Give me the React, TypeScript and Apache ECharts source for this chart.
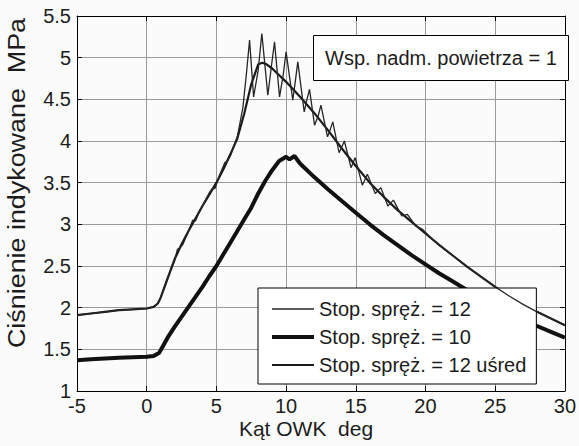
import React, { useEffect, useRef } from "react";
import * as echarts from "echarts";

const xMin = -5;
const xMax = 30;
const yMin = 1;
const yMax = 5.5;

const seriesNames = ["Stop. spręż. = 12", "Stop. spręż. = 10", "Stop. spręż. = 12 uśred"];

// Stop. spręż. = 12 (raw, oscillating)
const rawX = [-5, -4, -3, -2, -1, 0, 0.5, 0.8, 1.0, 1.5, 2.0, 2.2, 2.4, 2.6, 3.0, 3.3, 3.5, 3.7, 4.0, 4.5, 4.7, 4.9, 5.2, 5.6, 5.8, 6.0, 6.5, 6.9, 7.15, 7.38, 7.67, 8.0, 8.26, 8.69, 8.95, 9.17, 9.53, 9.8, 10.0, 10.48, 10.65, 10.84, 11.3, 11.5, 11.68, 12.04, 12.3, 12.5, 12.97, 13.15, 13.35, 13.8, 14.0, 14.18, 14.66, 14.95, 15.47, 15.83, 16.4, 16.8, 17.3, 17.7, 18.3, 18.7, 19.3, 19.8, 20.5, 21, 22, 23, 24, 25, 26, 27, 28, 29, 30];
const rawY = [1.91, 1.93, 1.95, 1.97, 1.98, 1.99, 2.01, 2.05, 2.12, 2.36, 2.56, 2.7, 2.72, 2.76, 2.92, 3.05, 3.04, 3.12, 3.22, 3.38, 3.43, 3.43, 3.58, 3.74, 3.76, 3.82, 4.05, 4.4, 4.8, 5.21, 4.53, 4.85, 5.29, 4.55, 4.9, 5.19, 4.53, 4.8, 5.07, 4.49, 4.7, 4.95, 4.35, 4.5, 4.62, 4.19, 4.3, 4.43, 4.05, 4.13, 4.23, 3.86, 3.93, 4.0, 3.68, 3.8, 3.47, 3.6, 3.37, 3.44, 3.22, 3.29, 3.1, 3.12, 2.98, 2.94, 2.82, 2.75, 2.62, 2.49, 2.37, 2.25, 2.14, 2.04, 1.95, 1.87, 1.79];

// Stop. spręż. = 10 (thick)
const tenX = [-5, -4, -3, -2, -1, 0, 0.5, 0.9, 1.2, 1.5, 2.0, 2.5, 3.0, 3.5, 4.0, 4.5, 5.0, 5.5, 6.0, 6.5, 7.0, 7.5, 8.0, 8.5, 9.0, 9.5, 10.0, 10.25, 10.6, 11, 12, 13, 14, 15, 16, 17, 18, 19, 20, 21, 22, 23, 24, 25, 26, 27, 28, 29, 30];
const tenY = [1.37, 1.38, 1.39, 1.4, 1.405, 1.41, 1.42, 1.46, 1.55, 1.64, 1.77, 1.89, 2.01, 2.13, 2.25, 2.38, 2.5, 2.64, 2.78, 2.92, 3.06, 3.2, 3.37, 3.52, 3.65, 3.76, 3.81, 3.78, 3.82, 3.73, 3.57, 3.42, 3.28, 3.14, 3.0, 2.87, 2.75, 2.63, 2.52, 2.41, 2.31, 2.21, 2.12, 2.03, 1.94, 1.86, 1.78, 1.71, 1.64];

// Stop. spręż. = 12 uśred (averaged)
const avgX = [-5, -4, -3, -2, -1, 0, 0.5, 0.8, 1.0, 1.5, 2.0, 2.5, 3.0, 3.5, 4.0, 4.5, 5.0, 5.5, 6.0, 6.5, 7.0, 7.5, 8.0, 8.3, 8.6, 9.0, 10, 11, 12, 13, 14, 15, 16, 17, 18, 19, 20, 21, 22, 23, 24, 25, 26, 27, 28, 29, 30];
const avgY = [1.91, 1.93, 1.95, 1.97, 1.98, 1.99, 2.01, 2.05, 2.12, 2.35, 2.58, 2.76, 2.92, 3.07, 3.22, 3.36, 3.5, 3.66, 3.84, 4.03, 4.33, 4.68, 4.92, 4.94, 4.92, 4.87, 4.71, 4.53, 4.34, 4.13, 3.91, 3.7, 3.5, 3.33, 3.17, 3.03, 2.89, 2.75, 2.62, 2.49, 2.37, 2.25, 2.14, 2.04, 1.95, 1.87, 1.79];

const annotationText = "Wsp. nadm. powietrza = 1";
const xTitle = "Kąt OWK  deg";
const yTitle = "Ciśnienie indykowane  MPa";

const zip = (xs: number[], ys: number[]) => xs.map((x, i) => [x, ys[i]]);

const FONT = "'Liberation Sans', Arial, sans-serif";
const INK = "#1c1c1c";

export default function App() {
  const ref = useRef<HTMLDivElement>(null);
  useEffect(() => {
    if (!ref.current) return;
    const chart = echarts.init(ref.current, undefined, { renderer: "svg" });
    const mkTick = () => ({ show: true, inside: true, length: 5, lineStyle: { color: "#000" } });
    const mkLine = () => ({ show: true, onZero: false, lineStyle: { color: "#000", width: 1 } });
    const mkSplit = () => ({ show: true, lineStyle: { color: "#9a9a9a", width: 1, type: "solid" } });
    chart.setOption({
      animation: false,
      backgroundColor: "#fbfbfb",
      grid: { left: 77, right: 13, top: 16, bottom: 55 },
      xAxis: [
        {
          type: "value", min: xMin, max: xMax, interval: 5,
          axisLine: mkLine(), axisTick: mkTick(),
          axisLabel: { color: INK, fontSize: 20, fontFamily: FONT, margin: 5 },
          splitLine: mkSplit(),
        },
        {
          type: "value", min: xMin, max: xMax, interval: 5, position: "top",
          axisLine: mkLine(), axisTick: mkTick(),
          axisLabel: { show: false }, splitLine: { show: false },
        },
      ],
      yAxis: [
        {
          type: "value", min: yMin, max: yMax, interval: 0.5,
          axisLine: mkLine(), axisTick: mkTick(),
          axisLabel: { color: INK, fontSize: 20, fontFamily: FONT, margin: 6 },
          splitLine: mkSplit(),
        },
        {
          type: "value", min: yMin, max: yMax, interval: 0.5, position: "right",
          axisLine: mkLine(), axisTick: mkTick(),
          axisLabel: { show: false }, splitLine: { show: false },
        },
      ],
      legend: {
        data: seriesNames,
        orient: "vertical",
        left: 258,
        top: 288,
        itemWidth: 42,
        itemHeight: 14,
        itemGap: 8,
        padding: [11, 10, 9, 12],
        backgroundColor: "#fff",
        borderColor: "#000",
        borderWidth: 1,
        borderRadius: 0,
        itemStyle: { color: "rgba(0,0,0,0)", borderColor: "rgba(0,0,0,0)", borderWidth: 0 },
        lineStyle: { width: "inherit" },
        textStyle: { color: INK, fontSize: 20, fontFamily: FONT },
      },
      graphic: [
        {
          type: "rect", left: 313, top: 35, z: 10,
          shape: { width: 255, height: 45 },
          style: { fill: "#fff", stroke: "#000", lineWidth: 1 },
        },
        {
          type: "text", x: 441, y: 58, z: 11,
          style: { text: annotationText, fill: INK, font: `20px ${FONT}`, align: "center", verticalAlign: "middle" },
        },
        {
          type: "text", x: 306, y: 428,
          style: { text: xTitle, fill: INK, font: `21px ${FONT}`, align: "center", verticalAlign: "middle" },
        },
        {
          type: "text", x: 17, y: 183, rotation: Math.PI / 2, scaleX: 1.12,
          style: { text: yTitle, fill: INK, font: `24px ${FONT}`, align: "center", verticalAlign: "middle" },
        },
      ],
      series: [
        {
          name: seriesNames[0], type: "line", data: zip(rawX, rawY), symbol: "none",
          lineStyle: { color: "#262626", width: 1.3 }, itemStyle: { color: "#262626" }, z: 4,
        },
        {
          name: seriesNames[1], type: "line", data: zip(tenX, tenY), symbol: "none",
          lineStyle: { color: "#111", width: 4 }, itemStyle: { color: "#111" }, z: 3,
        },
        {
          name: seriesNames[2], type: "line", data: zip(avgX, avgY), symbol: "none",
          lineStyle: { color: "#1a1a1a", width: 2.2 }, itemStyle: { color: "#1a1a1a" }, z: 3,
        },
      ],
    });
    return () => chart.dispose();
  }, []);
  return <div ref={ref} style={{ position: "fixed", left: 0, top: 0, width: 579, height: 446 }} />;
}
